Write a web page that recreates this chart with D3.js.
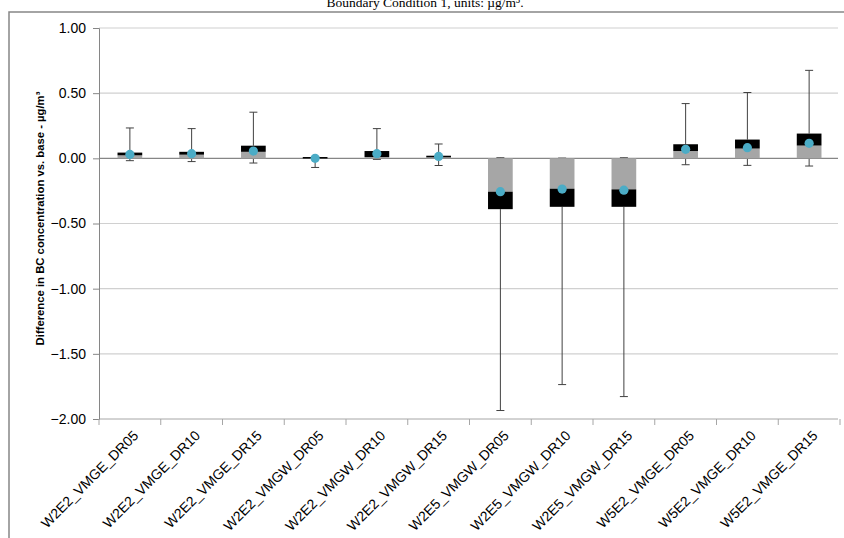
<!DOCTYPE html>
<html><head><meta charset="utf-8">
<script src="https://cdn.jsdelivr.net/npm/d3@7"></script>
<style>
html,body{margin:0;padding:0;background:#fff;overflow:hidden}
svg{display:block}
</style></head>
<body>
<script>
const categories = ["W2E2_VMGE_DR05","W2E2_VMGE_DR10","W2E2_VMGE_DR15","W2E2_VMGW_DR05","W2E2_VMGW_DR10","W2E2_VMGW_DR15","W2E5_VMGW_DR05","W2E5_VMGW_DR10","W2E5_VMGW_DR15","W5E2_VMGE_DR05","W5E2_VMGE_DR10","W5E2_VMGE_DR15"];
const whiskerMin = [-0.018,-0.025,-0.036,-0.07,-0.008,-0.055,-1.935,-1.736,-1.828,-0.049,-0.054,-0.059];
const q1 = [0,0,0,0,0,0,-0.39,-0.372,-0.372,0,0,0];
const median = [0.023,0.028,0.05,0.003,0.01,0.008,-0.256,-0.233,-0.238,0.056,0.075,0.098];
const q3 = [0.044,0.05,0.097,0.01,0.056,0.02,0,0,0,0.108,0.144,0.19];
const whiskerMax = [0.233,0.228,0.354,0.012,0.228,0.11,0.005,0.002,0.005,0.42,0.505,0.675];
const mean = [0.03,0.036,0.056,0.0,0.036,0.015,-0.256,-0.236,-0.244,0.069,0.082,0.115];
const yTicks = [1,0.5,0,-0.5,-1,-1.5,-2];

const W = 844, H = 538;
const svg = d3.select("body").append("svg").attr("width", W).attr("height", H);

// outer frame
svg.append("rect").attr("x", 9).attr("y", 12).attr("width", W + 20).attr("height", H + 20)
  .attr("fill", "#fff").attr("stroke", "#868686").attr("stroke-width", 1.5);

// title (clipped at top, as in the reference)
svg.append("text").attr("x", 425).attr("y", 7).attr("text-anchor", "middle")
  .style("font-family", "'Liberation Serif','Times New Roman',serif").style("font-size", "13.5px")
  .attr("fill", "#000").text("Boundary Condition 1, units: µg/m³.");

const y = d3.scaleLinear().domain([-2, 1]).range([419, 28]);
const x = d3.scaleBand().domain(categories).range([99, 840]).padding(0);
const bw = x.bandwidth() * 0.4;
const cx = d => x(d) + x.bandwidth() / 2;

// gridlines
svg.append("g").selectAll("line").data(yTicks.filter(v => v !== 0 && v !== -2)).join("line")
  .attr("x1", 99).attr("x2", 838).attr("y1", d => y(d)).attr("y2", d => y(d))
  .attr("stroke", "#d0d0d0").attr("stroke-width", 1.2);
svg.append("line").attr("x1", 99).attr("x2", 838).attr("y1", y(-2)).attr("y2", y(-2))
  .attr("stroke", "#a6a6a6").attr("stroke-width", 1);

// y axis
const yAxis = d3.axisLeft(y).tickValues(yTicks).tickFormat(d3.format(".2f")).tickSize(6).tickPadding(7);
const gy = svg.append("g").attr("transform", "translate(99,0)").call(yAxis);
gy.select(".domain").attr("stroke", "#868686");
gy.selectAll(".tick line").attr("stroke", "#868686");
gy.selectAll(".tick text").style("font-family", "'Liberation Sans',Arial,sans-serif").style("font-size", "14px").attr("fill", "#000");

// bottom ticks at band boundaries
svg.append("g").selectAll("line").data(d3.range(categories.length + 1)).join("line")
  .attr("x1", i => 99 + i * x.bandwidth()).attr("x2", i => 99 + i * x.bandwidth())
  .attr("y1", y(-2)).attr("y2", y(-2) + 6).attr("stroke", "#a6a6a6");

// x labels
svg.append("g").selectAll("text").data(categories).join("text")
  .attr("transform", d => `translate(${cx(d) + 6},${y(-2) + 14}) rotate(-45)`)
  .attr("text-anchor", "end").attr("dy", "0.35em")
  .style("font-family", "'Liberation Sans',Arial,sans-serif").style("font-size", "14px").attr("fill", "#000")
  .text(d => d);

// y title
svg.append("text").attr("transform", `translate(44,${(y(1)+y(-2))/2 - 5}) rotate(-90)`)
  .attr("text-anchor", "middle")
  .style("font-family", "'Liberation Sans',Arial,sans-serif").style("font-size", "11.3px").style("font-weight", "bold")
  .attr("fill", "#000").text("Difference in BC concentration vs. base - µg/m³");

const data = categories.map((c, i) => ({c, lo: whiskerMin[i], q1: q1[i], md: median[i], q3: q3[i], hi: whiskerMax[i], mn: mean[i]}));

// whiskers
const wg = svg.append("g").attr("stroke", "#404040").attr("stroke-width", 1);
data.forEach(d => {
  wg.append("line").attr("x1", cx(d.c)).attr("x2", cx(d.c)).attr("y1", y(d.q3)).attr("y2", y(d.hi));
  wg.append("line").attr("x1", cx(d.c) - 4).attr("x2", cx(d.c) + 4).attr("y1", y(d.hi)).attr("y2", y(d.hi));
  wg.append("line").attr("x1", cx(d.c)).attr("x2", cx(d.c)).attr("y1", y(d.q1)).attr("y2", y(d.lo));
  wg.append("line").attr("x1", cx(d.c) - 4).attr("x2", cx(d.c) + 4).attr("y1", y(d.lo)).attr("y2", y(d.lo));
});

// zero axis line
svg.append("line").attr("x1", 99).attr("x2", 838).attr("y1", y(0)).attr("y2", y(0))
  .attr("stroke", "#868686").attr("stroke-width", 1.2);

// boxes
const bg = svg.append("g");
data.forEach(d => {
  const grayA = d.md >= 0 ? d.q1 : d.q3, blackB = d.md >= 0 ? d.q3 : d.q1;
  bg.append("rect").attr("x", cx(d.c) - bw / 2).attr("width", bw)
    .attr("y", y(Math.max(grayA, d.md))).attr("height", Math.abs(y(grayA) - y(d.md)))
    .attr("fill", "#a6a6a6");
  bg.append("rect").attr("x", cx(d.c) - bw / 2).attr("width", bw)
    .attr("y", y(Math.max(blackB, d.md))).attr("height", Math.max(Math.abs(y(blackB) - y(d.md)), 1.5))
    .attr("fill", "#000");
});

// means
svg.append("g").selectAll("circle").data(data).join("circle")
  .attr("cx", d => cx(d.c)).attr("cy", d => y(d.mn)).attr("r", 4.6).attr("fill", "#4bacc6");
</script>
</body></html>
